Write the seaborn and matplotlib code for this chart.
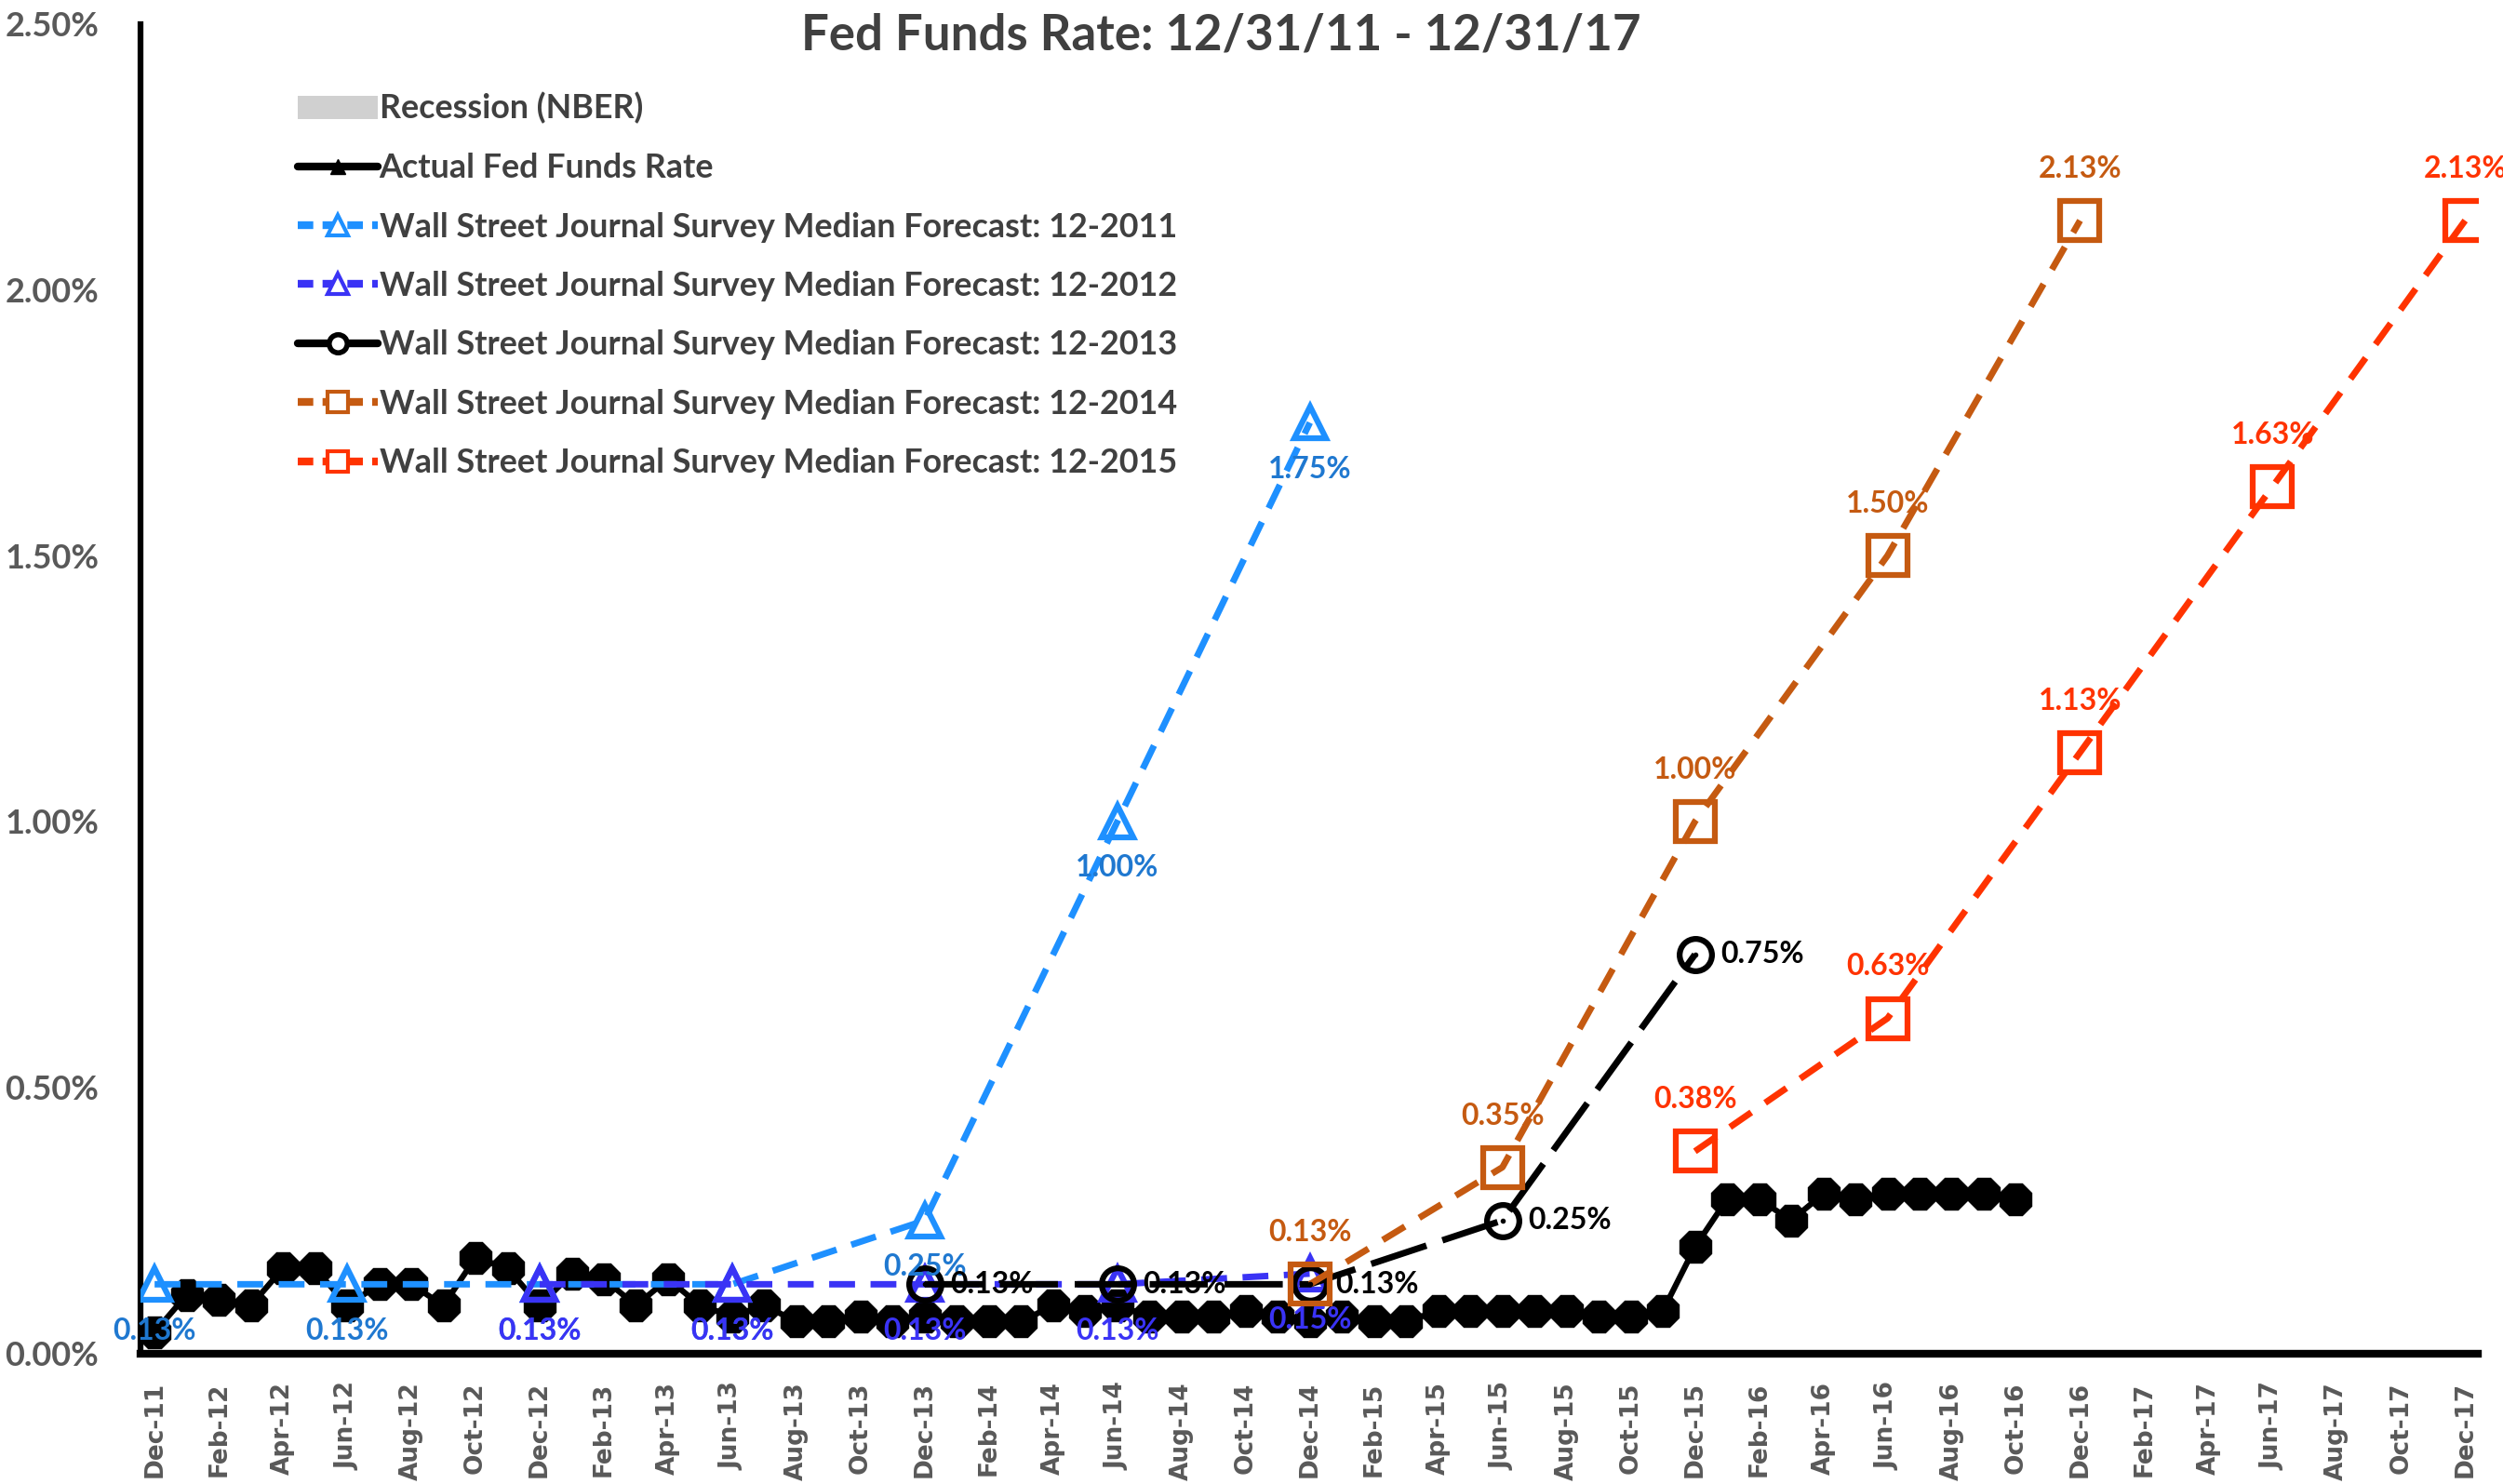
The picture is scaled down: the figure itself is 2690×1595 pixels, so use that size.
import pandas as pd
import seaborn as sns
import matplotlib.pyplot as plt
from matplotlib.lines import Line2D
from matplotlib.patches import Patch

# months on the x axis, Dec-11 .. Dec-17
month_labels = pd.date_range('2011-12-01', '2017-12-01', freq='MS').strftime('%b-%y').tolist()

# actual fed funds rate (%), Dec-11 .. Oct-16
actual_fed_funds = [0.04, 0.11, 0.10, 0.09, 0.16, 0.16, 0.09, 0.13, 0.13, 0.09, 0.18, 0.16,
                    0.09, 0.15, 0.14, 0.09, 0.14, 0.09, 0.07, 0.09, 0.06, 0.06, 0.07, 0.06,
                    0.07, 0.06, 0.06, 0.06, 0.09, 0.08, 0.09, 0.07, 0.07, 0.07, 0.08, 0.07,
                    0.06, 0.07, 0.06, 0.06, 0.08, 0.08, 0.08, 0.08, 0.08, 0.07, 0.07, 0.08,
                    0.20, 0.29, 0.29, 0.25, 0.30, 0.29, 0.30, 0.30, 0.30, 0.30, 0.29]

wsj_2011_months = ['Dec-11', 'Jun-12', 'Dec-12', 'Jun-13', 'Dec-13', 'Jun-14', 'Dec-14']
wsj_2011 = [0.13, 0.13, 0.13, 0.13, 0.25, 1.00, 1.75]
wsj_2012_months = ['Dec-12', 'Jun-13', 'Dec-13', 'Jun-14', 'Dec-14']
wsj_2012 = [0.13, 0.13, 0.13, 0.13, 0.15]
wsj_2013_months = ['Dec-13', 'Jun-14', 'Dec-14', 'Jun-15', 'Dec-15']
wsj_2013 = [0.13, 0.13, 0.13, 0.25, 0.75]
wsj_2014_months = ['Dec-14', 'Jun-15', 'Dec-15', 'Jun-16', 'Dec-16']
wsj_2014 = [0.13, 0.35, 1.00, 1.50, 2.13]
wsj_2015_months = ['Dec-15', 'Jun-16', 'Dec-16', 'Jun-17', 'Dec-17']
wsj_2015 = [0.38, 0.63, 1.13, 1.63, 2.13]

sns.set_theme(style="white")
narrow = ['Liberation Sans Narrow', 'Lato', 'DejaVu Sans']
plt.rcParams['font.family'] = narrow

fig = plt.figure(figsize=(26.9, 15.95), dpi=100)
ax = fig.add_axes([0.056, 0.088, 0.934, 0.896])

def idx(months):
    return [month_labels.index(m) for m in months]

# actual rate
sns.lineplot(x=list(range(len(actual_fed_funds))), y=actual_fed_funds, ax=ax, color='black',
             linewidth=4.5, marker='8', markersize=27, markerfacecolor='black',
             markeredgecolor='black', markeredgewidth=1, zorder=2)

series = [
    (wsj_2011_months, wsj_2011, '#1E90FF', '#1F78D0', '^', [4, 2.4], 'below'),
    (wsj_2012_months, wsj_2012, '#3A33F5', '#3A33F5', '^', [4, 2.4], 'below'),
    (wsj_2013_months, wsj_2013, 'black', 'black', 'o', [9, 2.6], 'right'),
    (wsj_2014_months, wsj_2014, '#C55A11', '#C55A11', 's', [4, 2.6], 'above'),
    (wsj_2015_months, wsj_2015, '#FF3300', '#FF3300', 's', [4, 2.6], 'above'),
]
for months, vals, col, lab_col, mk, dash, pos in series:
    xs = idx(months)
    ms = 30 if mk == 's' else 25
    sns.lineplot(x=xs, y=vals, ax=ax, color=col, linewidth=5, marker=mk, markersize=ms,
                 markerfacecolor='none', markeredgecolor=col, markeredgewidth=4.5, zorder=3)
    ax.lines[-1].set_dashes(dash)
    if mk == 'o':
        ax.plot(xs, vals, linestyle='none', marker='.', color=col, markersize=6, zorder=4)
    for x, v in zip(xs, vals):
        if pos == 'below':
            off, ha, va = (0, -36), 'center', 'center'
        elif pos == 'above':
            off, ha, va = (0, 40), 'center', 'center'
        else:
            off, ha, va = (20, 0), 'left', 'center'
        ax.annotate(f'{v:.2f}%', (x, v), xytext=off, textcoords='offset points',
                    ha=ha, va=va, fontsize=23, fontweight='bold', color=lab_col, zorder=5)

ax.set_xlim(-0.45, 72.4)
ax.set_ylim(0, 2.5)
ax.set_xticks(range(0, len(month_labels), 2))
ax.set_xticklabels(month_labels[::2], rotation=90, fontsize=19, fontweight='bold',
                   color='#595959', family='DejaVu Sans')
ax.set_yticks([0, 0.5, 1.0, 1.5, 2.0, 2.5])
ax.set_yticklabels([f'{v:.2f}%' for v in [0, 0.5, 1.0, 1.5, 2.0, 2.5]], fontsize=26,
                   fontweight='bold', color='#595959')
ax.tick_params(axis='x', length=0, pad=22)
ax.tick_params(axis='y', length=0, pad=32)
for s in ['top', 'right']:
    ax.spines[s].set_visible(False)
ax.spines['bottom'].set_linewidth(6)
ax.spines['left'].set_linewidth(4.5)
ax.spines['bottom'].set_color('black')
ax.spines['left'].set_color('black')

handles = [
    Patch(facecolor='#D0D0D0', edgecolor='none'),
    Line2D([], [], color='black', linewidth=6, marker='^', markersize=12, markerfacecolor='black'),
    Line2D([], [], color='#1E90FF', linewidth=6, dashes=[2, 1.2], marker='^', markersize=16,
           markerfacecolor='white', markeredgecolor='#1E90FF', markeredgewidth=3),
    Line2D([], [], color='#3A33F5', linewidth=6, dashes=[2, 1.2], marker='^', markersize=16,
           markerfacecolor='white', markeredgecolor='#3A33F5', markeredgewidth=3),
    Line2D([], [], color='black', linewidth=6, marker='o', markersize=14,
           markerfacecolor='white', markeredgecolor='black', markeredgewidth=4),
    Line2D([], [], color='#C55A11', linewidth=6, dashes=[2, 1.2], marker='s', markersize=16,
           markerfacecolor='white', markeredgecolor='#C55A11', markeredgewidth=3),
    Line2D([], [], color='#FF3300', linewidth=6, dashes=[2, 1.2], marker='s', markersize=16,
           markerfacecolor='white', markeredgecolor='#FF3300', markeredgewidth=3),
]
labels = ['Recession (NBER)', 'Actual Fed Funds Rate',
          'Wall Street Journal Survey Median Forecast: 12-2011',
          'Wall Street Journal Survey Median Forecast: 12-2012',
          'Wall Street Journal Survey Median Forecast: 12-2013',
          'Wall Street Journal Survey Median Forecast: 12-2014',
          'Wall Street Journal Survey Median Forecast: 12-2015']
leg = ax.legend(handles, labels, loc='upper left', bbox_to_anchor=(0.0545, 0.971), frameon=False,
                handlelength=2.4, handletextpad=0.05, labelspacing=0.85,
                prop={'family': narrow, 'size': 25.8, 'weight': 'bold'})
for t in leg.get_texts():
    t.set_color('#404040')

fig.text(0.488, 0.976, 'Fed Funds Rate: 12/31/11 - 12/31/17', ha='center', va='center',
         fontsize=38, fontweight='bold', color='#404040')

fig.savefig('out.png', dpi=100)
